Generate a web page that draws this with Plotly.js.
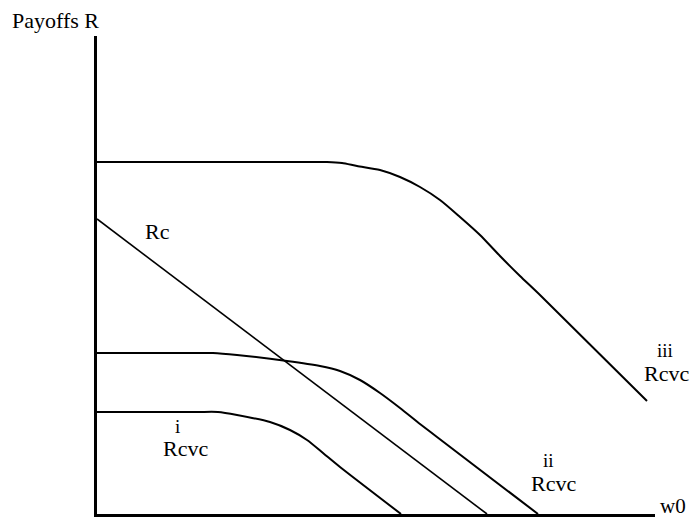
<!DOCTYPE html>
<html>
<head>
<meta charset="utf-8">
<script src="https://cdn.plot.ly/plotly-3.0.1.min.js"></script>
<style>html,body{margin:0;padding:0;background:#fff;}#chart{width:692px;height:520px;}</style>
</head>
<body>
<div id="chart"></div>
<script>
// Data (x = w0, y = payoff R)
const rcX = [0, 390];
const rcY = [295, 0];

const r1X = [0, 100, 121, 140, 173, 193, 210, 226, 243, 304];
const r1Y = [102, 102, 102, 99, 92, 84, 74, 61, 47, 0];

const r2X = [0, 100, 116, 140, 190, 223, 243, 263, 283, 303, 323, 340, 441];
const r2Y = [161, 161, 161, 159, 153, 148, 143, 134, 121, 106, 90, 77, 0];

const r3X = [0, 200, 230, 245, 260, 283, 303, 323, 343, 363, 383, 403, 423, 443, 550];
const r3Y = [352, 352, 352, 351, 348, 344, 337, 327, 314, 297, 279, 258, 238, 219, 113];

const W = 692, H = 520;
const L = 97, R = 37, T = 36, B = 6;
const pw = W - L - R, ph = H - T - B;
function px(x) { return (x - L) / pw; }
function py(y) { return (H - B - y) / ph; }

const FAM = '"Liberation Serif", "Times New Roman", serif';
const FONT = {family: FAM, size: 22, color: '#000'};
const SUPF = {family: FAM, size: 19, color: '#000'};

function lbl(text, x, y, f, ya) {
  return {text: text, xref: 'paper', yref: 'paper', x: px(x), y: py(y),
          xanchor: 'center', yanchor: ya || 'middle', showarrow: false, font: f || FONT, borderpad: 0};
}

const curve = (x, y, w) => ({x: x, y: y, mode: 'lines', hoverinfo: 'skip',
  line: {color: '#000', width: w, shape: 'spline', smoothing: 0.7}});

const traces = [
  {x: rcX, y: rcY, mode: 'lines', line: {color: '#000', width: 1.6}, hoverinfo: 'skip'},
  curve(r1X, r1Y, 2),
  curve(r2X, r2Y, 2),
  curve(r3X, r3Y, 2)
];

const layout = {
  width: W, height: H,
  margin: {l: L, r: R, t: T, b: B},
  paper_bgcolor: '#fff', plot_bgcolor: '#fff',
  showlegend: false,
  xaxis: {range: [0, pw], showgrid: false, zeroline: false, showticklabels: false, ticks: '',
          showline: true, linecolor: '#000', linewidth: 3, fixedrange: true},
  yaxis: {range: [0, ph], showgrid: false, zeroline: false, showticklabels: false, ticks: '',
          showline: true, linecolor: '#000', linewidth: 3, fixedrange: true},
  annotations: [
    lbl('Payoffs R', 55, 21),
    lbl('Rc', 157, 231),
    lbl('i', 177, 426, SUPF),
    lbl('Rcvc', 185, 448),
    lbl('ii', 548, 460, SUPF),
    lbl('Rcvc', 553, 483),
    lbl('iii', 665, 350, SUPF),
    lbl('Rcvc', 666, 373),
    lbl('w0', 673, 519, {family: FAM, size: 21, color: '#000'}, 'bottom')
  ]
};

Plotly.newPlot('chart', traces, layout, {displayModeBar: false, staticPlot: true});
</script>
</body>
</html>
